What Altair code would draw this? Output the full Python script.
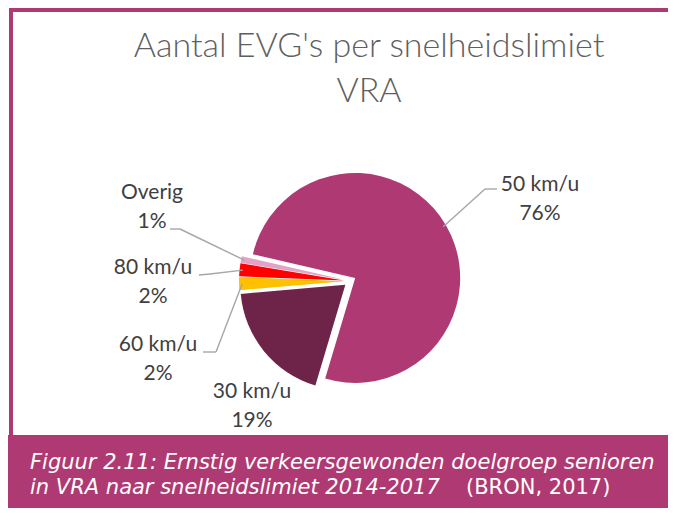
import math
import altair as alt
import pandas as pd

# ---------------- data ----------------
categories = ["50 km/u", "30 km/u", "60 km/u", "80 km/u", "Overig"]
values = [76, 19, 2, 2, 1]

title_lines = ["Aantal EVG's per snelheidslimiet", "VRA"]
caption_line1 = "Figuur 2.11: Ernstig verkeersgewonden doelgroep senioren"
caption_line2 = "in VRA naar snelheidslimiet 2014-2017"
caption_source = "(BRON, 2017)"

# ---------------- styles / layout ----------------
colors = ["#AF3A73", "#6E2349", "#FFC000", "#FF0000", "#E3A3C6"]
MAGENTA = "#AF3A73"
W, H = 660, 500
CX, CY = 342, 273
R = 105
EXPLODE = 6
START = -77 * math.pi / 180
TOTAL = sum(values)

# first-line centres of the two-line data labels
label_x = [532, 244, 150, 145, 144]
label_y = [177, 384, 337, 260, 185]
leader_end_x = [489, None, 195, 191, 162]
leader_end_y = [181, None, 344, 267, 221]
leader_elbow_x = [477, None, 208, 202, 172]
leader_elbow_y = [181, None, 344, 266, 221]

df = pd.DataFrame({
    "category": categories,
    "value": values,
    "order": list(range(len(categories))),
    "label": [f"{c}\n{v}%" for c, v in zip(categories, values)],
    "lx": label_x,
    "ly": label_y,
    "ex1": leader_end_x,
    "ey1": leader_end_y,
    "bx": leader_elbow_x,
    "by": leader_elbow_y,
})

base = (
    alt.Chart(df)
    .transform_window(cum="sum(value)", sort=[alt.SortField("order")], frame=[None, 0])
    .transform_joinaggregate(total="sum(value)")
    .transform_calculate(
        c0="datum.cum - datum.value",
        mid=f"{START} + 2*PI*(datum.cum - datum.value/2)/datum.total",
    )
    .transform_calculate(
        px=f"{CX} + {EXPLODE}*sin(datum.mid)",
        py=f"{CY} - {EXPLODE}*cos(datum.mid)",
        ax=f"{CX} + {EXPLODE + R * 0.97}*sin(datum.mid)",
        ay=f"{CY} - {EXPLODE + R * 0.97}*cos(datum.mid)",
    )
)

one = pd.DataFrame({"k": [0]})

frame = alt.Chart(one).mark_rect(fillOpacity=0, stroke=MAGENTA, strokeWidth=4).encode(
    x=alt.value(3), x2=alt.value(W + 40), y=alt.value(2), y2=alt.value(H + 40)
)
caption_box = alt.Chart(one).mark_rect(color=MAGENTA).encode(
    x=alt.value(-5), x2=alt.value(W + 40), y=alt.value(427), y2=alt.value(H + 40)
)

CAP_SIZE = 21
cap1 = alt.Chart(pd.DataFrame({"t": [caption_line1]})).mark_text(
    font="DejaVu Sans", fontStyle="italic", fontSize=CAP_SIZE, color="white",
    align="left", baseline="alphabetic"
).encode(text="t:N", x=alt.value(22), y=alt.value(461))
cap2 = alt.Chart(pd.DataFrame({"t": [caption_line2]})).mark_text(
    font="DejaVu Sans", fontStyle="italic", fontSize=CAP_SIZE, color="white",
    align="left", baseline="alphabetic"
).encode(text="t:N", x=alt.value(22), y=alt.value(486))
cap3 = alt.Chart(pd.DataFrame({"t": [caption_source]})).mark_text(
    font="DejaVu Sans", fontSize=CAP_SIZE, color="white",
    align="left", baseline="alphabetic"
).encode(text="t:N", x=alt.value(458), y=alt.value(486))

title = alt.Chart(pd.DataFrame({"t": ["\n".join(title_lines)]})).mark_text(
    font="Lato", fontSize=34, fontWeight=300, color="#5F5F5F", align="center",
    baseline="alphabetic", lineBreak="\n", lineHeight=45
).encode(text="t:N", x=alt.value(361), y=alt.value(49))

arcs = base.mark_arc(radius=R).encode(
    theta=alt.Theta("c0:Q", scale=alt.Scale(domain=[0, TOTAL], range=[START, START + 2 * math.pi]), stack=False),
    theta2="cum:Q",
    x=alt.X("px:Q", scale=None, axis=None),
    y=alt.Y("py:Q", scale=None, axis=None),
    color=alt.Color("category:N", scale=alt.Scale(domain=categories, range=colors), legend=None),
)

lead1 = base.transform_filter("isValid(datum.ex1)").mark_rule(color="#A6A6A6", strokeWidth=1.4).encode(
    x=alt.X("ex1:Q", scale=None, axis=None), x2="bx:Q",
    y=alt.Y("ey1:Q", scale=None, axis=None), y2="by:Q",
)
lead2 = base.transform_filter("isValid(datum.ex1)").mark_rule(color="#A6A6A6", strokeWidth=1.4).encode(
    x=alt.X("bx:Q", scale=None, axis=None), x2="ax:Q",
    y=alt.Y("by:Q", scale=None, axis=None), y2="ay:Q",
)

labels = base.mark_text(
    font="Lato", fontSize=21, color="#404040", align="center", baseline="middle",
    lineBreak="\n", lineHeight=29
).encode(
    x=alt.X("lx:Q", scale=None, axis=None),
    y=alt.Y("ly:Q", scale=None, axis=None),
    text="label:N",
)

chart = alt.layer(frame, caption_box, cap1, cap2, cap3, title, arcs, lead1, lead2, labels).properties(
    width=W, height=H, padding=0, autosize="none"
).configure_view(strokeWidth=0)

chart.save("out.html", embed_options={"renderer": "svg", "actions": False})
